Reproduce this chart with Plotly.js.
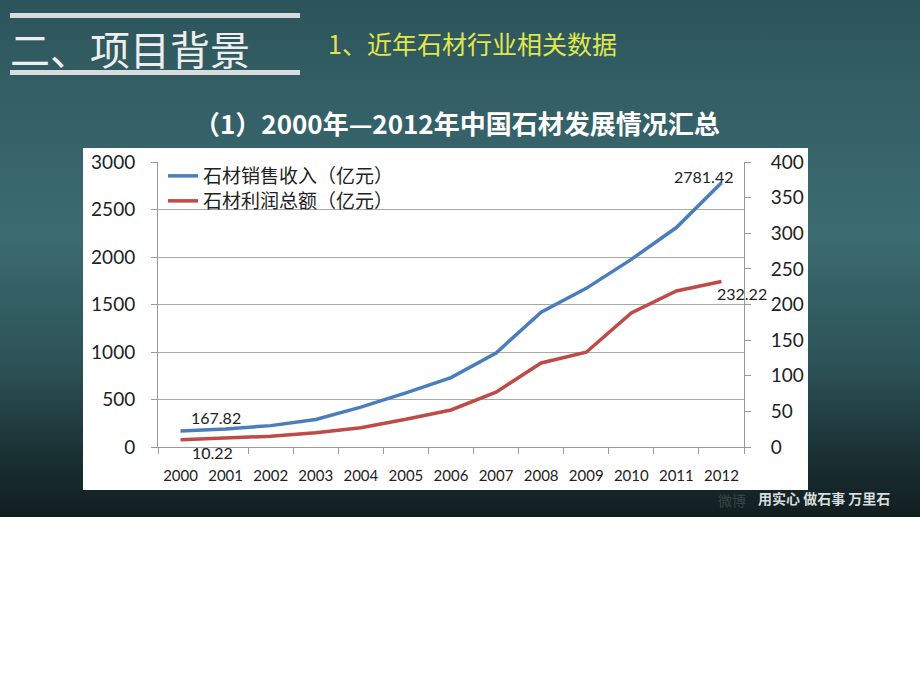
<!DOCTYPE html>
<html>
<head>
<meta charset="utf-8">
<script src="https://cdn.plot.ly/plotly-3.0.1.min.js"></script>
<style>
html,body{margin:0;padding:0;background:#fff;}
#chart{width:920px;height:690px;
 background-image: linear-gradient(180deg,#2c555b 0%,#356268 25%,#3b6b70 45%,#2c5357 70%,#182d30 90%,#111e20 100%);
 background-size:920px 517px;background-repeat:no-repeat;}
</style>
</head>
<body>
<div id="chart"></div>
<script>
const years = ['2000','2001','2002','2003','2004','2005','2006','2007','2008','2009','2010','2011','2012'];
const sales = [167.82, 190, 225, 290, 420, 570, 730, 990, 1420, 1670, 1975, 2310, 2781.42];
const profit = [10.22, 12, 15, 20, 27, 39, 52, 77, 118, 133, 188, 219, 232.22];
const seriesNames = ['石材销售收入（亿元）','石材利润总额（亿元）'];
const leftTicks = [0,500,1000,1500,2000,2500,3000];
const rightTicks = [0,50,100,150,200,250,300,350,400];

const W = 920, H = 690;
const px = x => x / W;
const py = y => 1 - y / H;
const numFont = 'Lato, "Open Sans", sans-serif';
const cjk = '"Noto Sans CJK SC", sans-serif';

const traces = [
 {x: years, y: sales, name: seriesNames[0], type: 'scatter', mode: 'lines',
  line: {color: '#4a7ebb', width: 3.5}, yaxis: 'y', legend:'legend'},
 {x: years, y: profit, name: seriesNames[1], type: 'scatter', mode: 'lines',
  line: {color: '#be4b48', width: 3.5}, yaxis: 'y2', legend:'legend2'}
];

const n = years.length - 1;
const annotations = [
 {xref:'paper', yref:'paper', x: px(8), y: py(48), xanchor:'left', yanchor:'middle', showarrow:false,
  text:'二、项目背景', font:{family:cjk, size:40, color:'#eeeeee'}},
 {xref:'paper', yref:'paper', x: px(326), y: py(43), xanchor:'left', yanchor:'middle', showarrow:false,
  text:'1、近年石材行业相关数据', font:{family:cjk, size:25, color:'#e3e64a'}},
 {xref:'paper', yref:'paper', x: px(457), y: py(123), xanchor:'center', yanchor:'middle', showarrow:false,
  text:'<b>（1）2000年—2012年中国石材发展情况汇总</b>', font:{family:cjk, size:26, color:'#ffffff'}},
 {xref:'x', yref:'y', x: 0, y: sales[0], showarrow:false, xshift:35, yshift:14,
  text: sales[0].toFixed(2), font:{family:numFont, size:16, color:'#222'}},
 {xref:'x', yref:'y2', x: 0, y: profit[0], showarrow:false, xshift:32, yshift:-13,
  text: profit[0].toFixed(2), font:{family:numFont, size:16, color:'#222'}},
 {xref:'x', yref:'y', x: n, y: sales[n], showarrow:false, xshift:-18, yshift:6,
  text: sales[n].toFixed(2), font:{family:numFont, size:16, color:'#222'}},
 {xref:'x', yref:'y2', x: n, y: profit[n], showarrow:false, xshift:21, yshift:-12,
  text: profit[n].toFixed(2), font:{family:numFont, size:16, color:'#222'}},
 {xref:'paper', yref:'paper', x: px(748), y: py(500), xanchor:'right', yanchor:'middle', showarrow:false,
  text:'微博', font:{family:cjk, size:14, color:'#3a4446'}},
 {xref:'paper', yref:'paper', x: px(756), y: py(498), xanchor:'left', yanchor:'middle', showarrow:false,
  text:'<b>用实心 做石事 万里石</b>', font:{family:cjk, size:14, color:'#d8dcdc'}}
];

const shapes = [
 {type:'rect', xref:'paper', yref:'paper', x0:px(83), x1:px(808), y0:py(490), y1:py(148),
  fillcolor:'#ffffff', line:{width:0}, layer:'below'},
 {type:'rect', xref:'paper', yref:'paper', x0:px(10), x1:px(300), y0:py(18), y1:py(13),
  fillcolor:'#d9dcdc', line:{width:0}},
 {type:'rect', xref:'paper', yref:'paper', x0:px(10), x1:px(300), y0:py(75), y1:py(70),
  fillcolor:'#d9dcdc', line:{width:0}}
];

const legendBase = {xanchor:'left', yanchor:'middle', bgcolor:'rgba(0,0,0,0)',
  font:{family:cjk, size:19, color:'#222'}, itemwidth:30};

const layout = {
 width: W, height: H, autosize:false,
 margin:{l:0, r:0, t:0, b:0},
 paper_bgcolor:'rgba(0,0,0,0)', plot_bgcolor:'rgba(0,0,0,0)',
 showlegend:true,
 legend: Object.assign({x: px(163), y: py(176)}, legendBase),
 legend2: Object.assign({x: px(163), y: py(201)}, legendBase),
 xaxis:{domain:[px(158), px(744)], type:'category', range:[-0.5, 12.5],
  tickson:'boundaries', ticks:'outside', ticklen:6, tickcolor:'#9a9a9a', tickangle:0,
  showline:true, linecolor:'#9a9a9a', linewidth:1, showgrid:false, zeroline:false,
  tickfont:{family:numFont, size:15, color:'#222'}, ticklabelstandoff:15, fixedrange:true},
 yaxis:{domain:[py(447), py(162)], range:[0,3000], tickvals:leftTicks,
  ticks:'outside', ticklen:6, tickcolor:'#9a9a9a', showline:true, linecolor:'#9a9a9a',
  gridcolor:'#a8a8a8', gridwidth:1, zeroline:false,
  tickfont:{family:numFont, size:19, color:'#222'}, ticklabelstandoff:12},
 yaxis2:{overlaying:'y', side:'right', range:[0,400], tickvals:rightTicks,
  ticks:'outside', ticklen:6, tickcolor:'#9a9a9a', showline:true, linecolor:'#9a9a9a',
  showgrid:false, zeroline:false,
  tickfont:{family:numFont, size:19, color:'#222'}, ticklabelstandoff:16},
 annotations: annotations,
 shapes: shapes
};

Plotly.newPlot('chart', traces, layout, {displayModeBar:false, staticPlot:true});
</script>
</body>
</html>
